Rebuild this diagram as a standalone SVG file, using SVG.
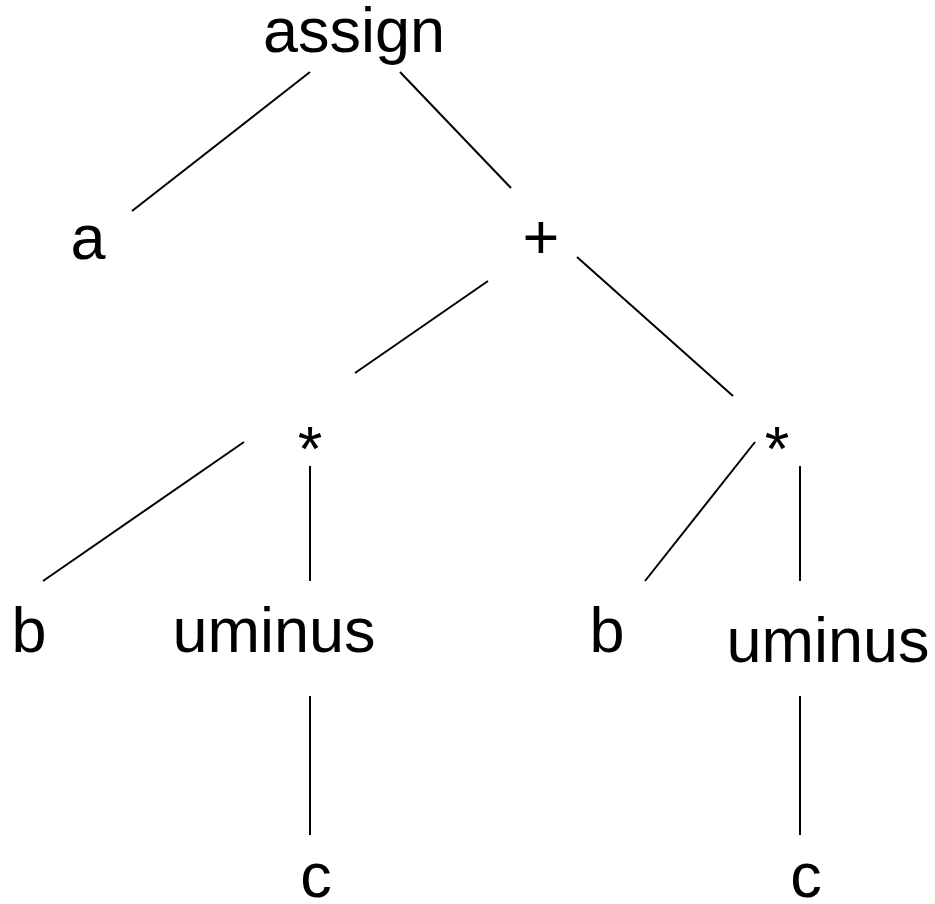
<svg xmlns="http://www.w3.org/2000/svg" width="935" height="904" viewBox="0 0 935 904">
<style>
text{font-family:"Liberation Sans",Arial,sans-serif;font-size:63px;fill:#000}
line{stroke:#000;stroke-width:2;stroke-linecap:butt}
</style>
<rect width="935" height="904" fill="#fff"/>
<g id="connectors">
<line x1="310" y1="72" x2="132" y2="211"/>
<line x1="400" y1="72" x2="511" y2="188"/>
<line x1="488" y1="281" x2="355" y2="373"/>
<line x1="577" y1="257" x2="733" y2="396"/>
<line x1="244" y1="442" x2="43" y2="581"/>
<line x1="310" y1="466" x2="310" y2="581"/>
<line x1="755" y1="442" x2="645" y2="581"/>
<line x1="800" y1="466" x2="800" y2="581"/>
<line x1="310" y1="696" x2="310" y2="835"/>
<line x1="800" y1="696" x2="800" y2="835"/>
</g>
<g id="n-assign"><text x="354" y="52" text-anchor="middle">assign</text></g>
<g id="n-a"><text x="88" y="259" text-anchor="middle">a</text></g>
<g id="n-plus"><text x="541" y="259" text-anchor="middle">+</text></g>
<g id="n-mul1"><text x="310" y="470" text-anchor="middle">*</text></g>
<g id="n-mul2"><text x="777" y="470" text-anchor="middle">*</text></g>
<g id="n-b1"><text x="29" y="652" text-anchor="middle">b</text></g>
<g id="n-uminus1"><text x="274" y="652" text-anchor="middle">uminus</text></g>
<g id="n-b2"><text x="607" y="652" text-anchor="middle">b</text></g>
<g id="n-uminus2"><text x="828" y="662" text-anchor="middle">uminus</text></g>
<g id="n-c1"><text x="316" y="897" text-anchor="middle">c</text></g>
<g id="n-c2"><text x="806" y="897" text-anchor="middle">c</text></g>
</svg>
